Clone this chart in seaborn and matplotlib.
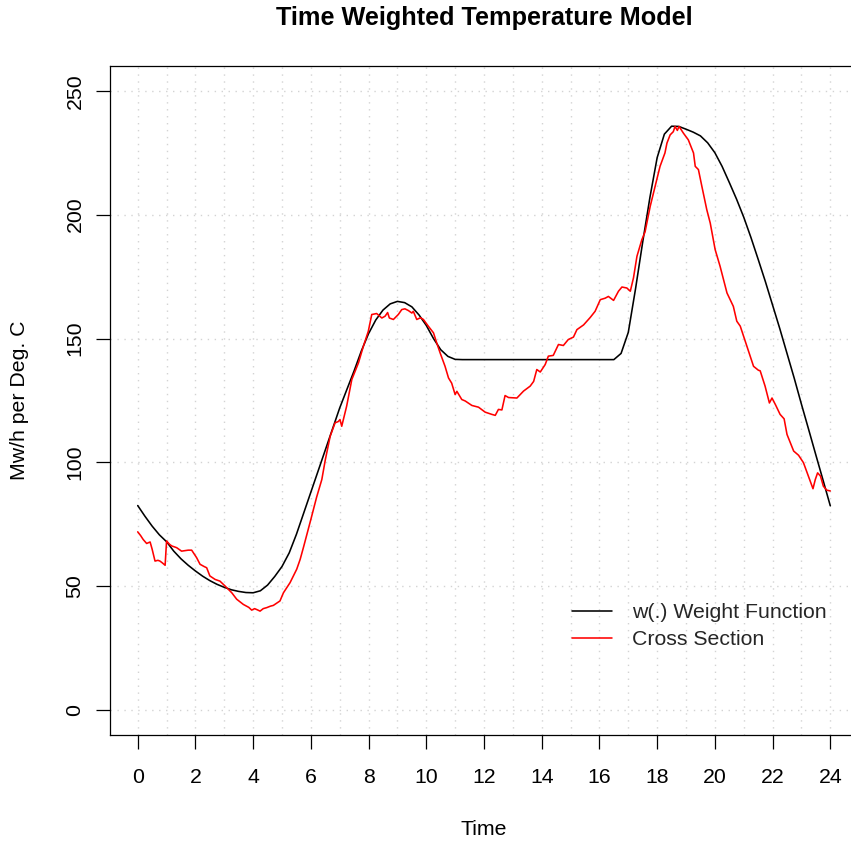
import matplotlib
matplotlib.use("Agg")
import matplotlib.pyplot as plt
import pandas as pd
import seaborn as sns

# Weight function w(.) over the day
hours_w = [0.0, 0.25, 0.5, 0.75, 1.0, 1.25, 1.5, 1.75, 2.0, 2.25, 2.5, 2.75, 3.0,
           3.25, 3.5, 3.75, 4.0, 4.25, 4.5, 4.75, 5.0, 5.25, 5.5, 5.75, 6.0, 6.25,
           6.5, 6.75, 7.0, 7.25, 7.5, 7.75, 8.0, 8.25, 8.5, 8.75, 9.0, 9.25, 9.5,
           9.75, 10.0, 10.25, 10.5, 10.75, 11.0, 11.25, 16.5, 16.75, 17.0, 17.25,
           17.5, 17.75, 18.0, 18.25, 18.5, 18.75, 19.0, 19.25, 19.5, 19.75, 20.0,
           20.25, 20.5, 20.75, 21.0, 21.25, 21.5, 21.75, 22.0, 22.25, 22.5, 22.75,
           23.0, 23.25, 23.5, 23.75, 24.0]
weight = [82.6, 78.3, 74.3, 70.8, 68.0, 64.2, 61.1, 58.5, 56.2, 54.1, 52.3, 50.8, 49.6,
          48.6, 47.95, 47.5, 47.4, 48.2, 50.5, 54.0, 58.0, 63.5, 71.0, 79.5, 88.0, 96.5,
          105.0, 113.5, 122.0, 129.5, 137.0, 145.0, 152.0, 157.5, 161.5, 164.0, 165.0,
          164.5, 162.8, 159.5, 155.3, 150.0, 145.5, 142.8, 141.6, 141.5, 141.5, 144.0,
          152.5, 170.0, 189.0, 207.0, 223.0, 232.5, 235.7, 235.6, 234.5, 233.3, 231.8,
          229.0, 225.0, 219.5, 213.0, 206.3, 199.0, 190.8, 182.0, 173.0, 163.5, 154.0,
          144.0, 134.0, 123.5, 113.3, 103.0, 92.8, 82.5]

# Observed cross section
hours_cs = [0.00, 0.10, 0.19, 0.31, 0.43, 0.50, 0.60, 0.70, 0.77, 0.85, 0.95, 1.00,
            1.10, 1.18, 1.35, 1.52, 1.75, 1.87, 2.04, 2.16, 2.30, 2.39, 2.50, 2.68,
            2.85, 3.03, 3.26, 3.43, 3.66, 3.85, 3.95, 4.05, 4.15, 4.24, 4.35, 4.47,
            4.60, 4.70, 4.85, 4.93, 5.05, 5.28, 5.51, 5.63, 5.75, 6.00, 6.20, 6.38,
            6.50, 6.67, 6.84, 6.95, 7.01, 7.07, 7.24, 7.42, 7.65, 7.82, 7.99, 8.11,
            8.28, 8.46, 8.57, 8.66, 8.72, 8.86, 9.03, 9.15, 9.26, 9.38, 9.50, 9.55,
            9.67, 9.80, 9.90, 10.07, 10.25, 10.36, 10.48, 10.65, 10.77, 10.88, 11.00,
            11.06, 11.23, 11.35, 11.58, 11.81, 12.04, 12.27, 12.39, 12.50, 12.62,
            12.73, 12.85, 13.14, 13.37, 13.60, 13.72, 13.83, 13.95, 14.12, 14.23,
            14.40, 14.58, 14.75, 14.92, 15.10, 15.22, 15.45, 15.68, 15.85, 16.03,
            16.20, 16.31, 16.49, 16.66, 16.78, 16.95, 17.07, 17.18, 17.30, 17.47,
            17.58, 17.76, 17.93, 18.10, 18.27, 18.34, 18.45, 18.56, 18.62, 18.70,
            18.76, 18.91, 19.08, 19.26, 19.32, 19.43, 19.55, 19.72, 19.84, 20.01,
            20.18, 20.30, 20.42, 20.53, 20.64, 20.76, 20.88, 21.11, 21.34, 21.51,
            21.57, 21.74, 21.89, 21.98, 22.10, 22.26, 22.40, 22.50, 22.73, 22.90,
            23.07, 23.24, 23.40, 23.48, 23.56, 23.66, 23.76, 23.88, 24.00]
cross_section = [72.0, 70.5, 68.9, 67.3, 67.9, 65.0, 60.2, 60.5, 60.2, 59.5, 58.5, 68.3,
                 67.0, 66.3, 65.6, 64.2, 64.6, 64.6, 61.6, 58.9, 58.0, 57.5, 54.2, 52.8,
                 52.1, 50.1, 47.4, 44.8, 42.7, 41.5, 40.4, 41.0, 40.5, 40.0, 41.0, 41.4,
                 42.0, 42.3, 43.5, 44.1, 47.4, 51.5, 56.9, 60.9, 66.0, 77.0, 86.0, 93.1,
                 101.0, 110.6, 116.0, 116.5, 117.3, 114.6, 122.7, 133.5, 140.2, 146.9,
                 152.9, 159.7, 160.1, 158.3, 159.0, 160.5, 158.3, 157.7, 159.7, 161.7,
                 162.0, 161.3, 160.3, 161.0, 157.7, 158.4, 157.7, 155.0, 152.3, 148.3,
                 144.2, 138.8, 134.1, 132.0, 127.4, 128.7, 125.4, 124.8, 123.0, 122.3,
                 120.3, 119.4, 119.0, 121.4, 121.2, 127.0, 126.2, 126.0, 128.8, 130.8,
                 132.7, 137.5, 136.5, 139.5, 142.9, 143.2, 147.6, 147.2, 149.6, 150.6,
                 153.6, 155.5, 158.5, 161.0, 165.7, 166.3, 167.0, 165.4, 169.1, 170.8,
                 170.4, 169.1, 174.5, 183.2, 189.9, 193.0, 203.4, 211.4, 219.5, 224.9,
                 228.9, 232.2, 233.5, 235.6, 234.0, 235.6, 232.9, 230.2, 224.9, 219.5,
                 218.2, 211.4, 202.0, 196.6, 185.9, 179.2, 173.8, 168.4, 165.7, 163.0,
                 157.0, 155.0, 146.9, 138.8, 137.2, 137.0, 130.8, 124.0, 126.0, 123.3,
                 119.4, 117.6, 111.3, 104.6, 102.9, 99.9, 94.5, 89.4, 93.1, 95.8, 94.5,
                 90.4, 88.8, 88.5]

x_ticks = list(range(0, 25, 2))
x_grid = list(range(0, 25))
y_ticks = [0, 50, 100, 150, 200, 250]

title = "Time Weighted Temperature Model"
x_label = "Time"
y_label = "Mw/h per Deg. C"
series_names = ["w(.) Weight Function", "Cross Section"]

sns.set_theme(style="white")
plt.rcParams["font.family"] = ["Liberation Sans", "DejaVu Sans"]
base_size = 15.3

fig = plt.figure(figsize=(8.51, 8.42), dpi=100)
W, H = 851, 842
left, right, top, bottom = 110, 858, 66, 735
ax = fig.add_axes([left / W, (H - bottom) / H, (right - left) / W, (bottom - top) / H])

weight_df = pd.DataFrame({"Time": hours_w, "Value": weight})
cross_df = pd.DataFrame({"Time": hours_cs, "Value": cross_section})

sns.lineplot(data=weight_df, x="Time", y="Value", color="black", linewidth=1.15,
             estimator=None, label=series_names[0], ax=ax, zorder=3)
sns.lineplot(data=cross_df, x="Time", y="Value", color="#FF0000", linewidth=1.15,
             estimator=None, label=series_names[1], ax=ax, zorder=4)

ax.set_xlim(-0.96, 24.96)
ax.set_ylim(-10, 260)
ax.set_xticks(x_ticks)
ax.set_xticks(x_grid, minor=True)
ax.set_yticks(y_ticks)
ax.set_xticklabels([str(v) for v in x_ticks])
ax.set_yticklabels([str(v) for v in y_ticks])

grid_kw = dict(color="#D3D3D3", linestyle=(0, (1, 4)), linewidth=1.0)
ax.grid(which="both", axis="x", **grid_kw)
ax.grid(which="major", axis="y", **grid_kw)
ax.set_axisbelow(True)

ax.tick_params(axis="both", which="major", direction="out", length=9.8, width=0.9,
               color="black", labelsize=base_size, labelcolor="black",
               bottom=True, left=True)
ax.tick_params(axis="x", which="major", pad=14.2)
ax.tick_params(axis="y", which="major", pad=8.5, labelrotation=90)
ax.tick_params(which="minor", length=0, bottom=False, left=False)
for lab in ax.get_yticklabels():
    lab.set_va("center")

for side in ["left", "bottom", "top", "right"]:
    ax.spines[side].set_visible(True)
    ax.spines[side].set_color("black")
    ax.spines[side].set_linewidth(0.9)

ax.set_xlabel(x_label, fontsize=base_size, color="black")
ax.set_ylabel(y_label, fontsize=base_size, color="black")
ax.xaxis.label.set_va("baseline")
ax.xaxis.set_label_coords(0.5, (bottom - 835) / (bottom - top))
ax.yaxis.label.set_va("center")
ax.yaxis.set_label_coords((20 - left) / (right - left), 0.5)

fig.text(484 / W, 1 - 25 / H, title, ha="center", va="baseline",
         fontsize=18.2, fontweight="bold", color="black")

ax.legend(loc="center left", bbox_to_anchor=(571.7 / W, 1 - 626 / H),
          bbox_transform=fig.transFigure, frameon=False, fontsize=base_size,
          handlelength=1.88, handletextpad=0.94, labelspacing=0.38,
          borderpad=0, borderaxespad=0)

fig.savefig("out.png", dpi=100, facecolor="white")
